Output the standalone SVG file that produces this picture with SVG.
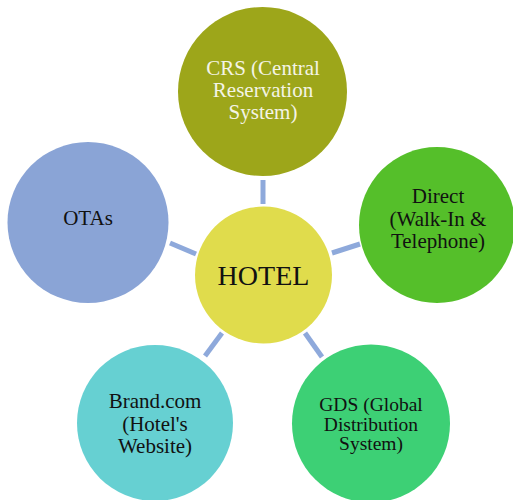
<svg xmlns="http://www.w3.org/2000/svg" width="513" height="500" viewBox="0 0 513 500">
<style>
.lbl{font-family:"Liberation Serif","Times New Roman",serif;font-size:21px;text-anchor:middle;fill:#111}
.conn line{stroke:#8EA9DB;stroke-width:5}
</style>
<rect width="513" height="500" fill="#fff"/>
<g class="conn" id="connectors">
<line x1="263" y1="180" x2="263" y2="204"/>
<line x1="332" y1="253" x2="360" y2="244"/>
<line x1="170" y1="243" x2="196" y2="254"/>
<line x1="222" y1="333" x2="205" y2="356"/>
<line x1="305" y1="333" x2="322" y2="357"/>
</g>
<g id="crs">
<circle cx="262.5" cy="91.5" r="84.5" fill="#9DA61A"/>
<text class="lbl" style="fill:#F4F4E6"><tspan x="263" y="75">CRS (Central</tspan><tspan x="263" y="97">Reservation</tspan><tspan x="263" y="119">System)</tspan></text>
</g>
<g id="hotel">
<circle cx="263.5" cy="275" r="68.5" fill="#E0DC4C"/>
<text class="lbl" x="263.5" y="285" style="font-size:28px">HOTEL</text>
</g>
<g id="direct">
<circle cx="437" cy="225" r="78" fill="#55BF2A"/>
<text class="lbl"><tspan x="438" y="203">Direct</tspan><tspan x="438" y="226">(Walk-In &amp;</tspan><tspan x="438" y="248">Telephone)</tspan></text>
</g>
<g id="otas">
<circle cx="88" cy="222.5" r="80.5" fill="#8AA4D6"/>
<text class="lbl" x="88" y="225">OTAs</text>
</g>
<g id="brand">
<circle cx="155" cy="423" r="78" fill="#66D0D2"/>
<text class="lbl"><tspan x="155" y="408">Brand.com</tspan><tspan x="155" y="431">(Hotel's</tspan><tspan x="155" y="453">Website)</tspan></text>
</g>
<g id="gds">
<circle cx="371" cy="423.5" r="79" fill="#3DD075"/>
<text class="lbl" style="font-size:19.5px"><tspan x="371" y="411">GDS (Global</tspan><tspan x="371" y="431">Distribution</tspan><tspan x="371" y="450">System)</tspan></text>
</g>
</svg>
